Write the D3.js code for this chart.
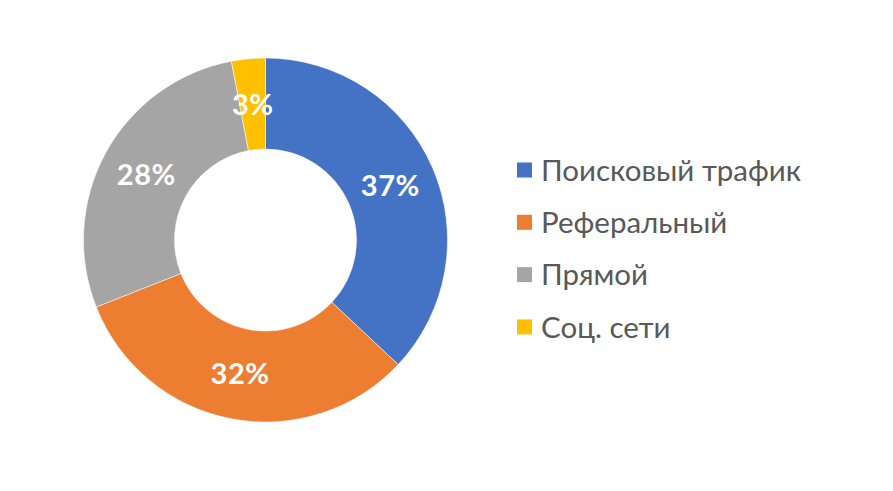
<!DOCTYPE html>
<html>
<head>
<meta charset="utf-8">
<script src="https://cdn.jsdelivr.net/npm/d3@7"></script>
<style>
  body { margin: 0; background: #fff; }
  svg { display: block; }
</style>
</head>
<body>
<div id="chart"></div>
<script>
// данные
var categories = ["Поисковый трафик", "Реферальный", "Прямой", "Соц. сети"];
var values = [37, 32, 28, 3];
var colors = ["#4472C4", "#ED7D31", "#A5A5A5", "#FFC000"];

var width = 893, height = 491;
var cx = 265.5, cy = 240;
var outerR = 182, innerR = 91;

var svg = d3.select("#chart").append("svg")
  .attr("width", width)
  .attr("height", height);

var data = categories.map(function(c, i) { return { name: c, value: values[i], color: colors[i] }; });

var pie = d3.pie().sort(null).value(function(d) { return d.value; });
var arc = d3.arc().innerRadius(innerR).outerRadius(outerR);
var labelArc = d3.arc().innerRadius(136).outerRadius(136);

var g = svg.append("g").attr("transform", "translate(" + cx + "," + cy + ")");

var arcs = pie(data);

g.selectAll("path")
  .data(arcs)
  .enter().append("path")
  .attr("d", arc)
  .attr("fill", function(d) { return d.data.color; })
  .attr("stroke", "#fff")
  .attr("stroke-width", 0.5);

g.selectAll("text")
  .data(arcs)
  .enter().append("text")
  .attr("transform", function(d) { return "translate(" + labelArc.centroid(d) + ")"; })
  .attr("text-anchor", "middle")
  .attr("dy", "0.36em")
  .style("font-family", "Lato, 'Open Sans', sans-serif")
  .style("font-weight", "bold")
  .style("font-size", "29px")
  .style("letter-spacing", "0.5px")
  .style("fill", "#fff")
  .text(function(d) { return d.data.value + "%"; });

// легенда
var legend = svg.append("g").attr("transform", "translate(517,170)");
var rowH = 52.3;

var items = legend.selectAll("g")
  .data(data)
  .enter().append("g")
  .attr("transform", function(d, i) { return "translate(0," + (i * rowH) + ")"; });

items.append("rect")
  .attr("x", 0)
  .attr("y", -7.5)
  .attr("width", 15)
  .attr("height", 15)
  .attr("fill", function(d) { return d.color; });

items.append("text")
  .attr("x", 24)
  .attr("y", 0)
  .attr("dy", "0.36em")
  .style("font-family", "Lato, 'Open Sans', sans-serif")
  .style("font-size", "29.5px")
  .style("fill", "#595959")
  .text(function(d) { return d.name; });
</script>
</body>
</html>
